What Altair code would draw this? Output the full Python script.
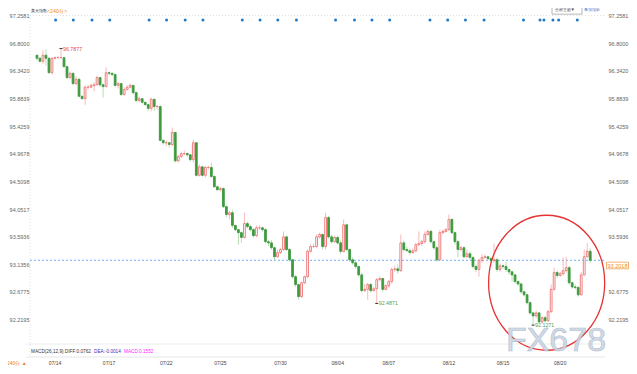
import altair as alt
import pandas as pd

# ---------------- data ----------------
first_open = 96.60
closes = [
    96.55, 96.50, 96.60, 96.55, 96.31, 96.55, 96.56, 96.56, 96.56, 96.41,
    96.23, 96.30, 96.13, 96.20, 95.92, 95.88, 96.07, 96.07, 96.10, 96.11,
    96.23, 96.11, 96.08, 96.31, 96.30, 96.28, 96.10, 96.13, 95.95, 96.03,
    96.07, 96.10, 95.98, 95.85, 95.88, 95.82, 95.78, 95.72, 95.87, 95.75,
    95.75, 95.19, 95.15, 95.15, 95.12, 95.32, 94.85, 94.92, 94.97, 94.97,
    94.95, 94.87, 95.15, 94.61, 94.75, 94.61, 94.74, 94.74, 94.59, 94.42,
    94.37, 94.39, 94.09, 93.96, 93.99, 93.78, 93.71, 93.66, 93.58, 93.81,
    93.76, 93.71, 93.61, 93.74, 93.74, 93.71, 93.51, 93.49, 93.41, 93.26,
    93.33, 93.38, 93.59, 93.38, 93.21, 92.93, 92.80, 92.60, 92.83, 92.93,
    93.35, 93.43, 93.43, 93.59, 93.63, 93.43, 93.91, 93.59, 93.51, 93.58,
    93.49, 93.35, 93.79, 93.38, 93.21, 93.16, 93.10, 92.96, 92.70, 92.72,
    92.80, 92.70, 92.73, 92.88, 92.90, 92.72, 92.78, 92.85, 93.05, 93.06,
    93.03, 93.49, 93.38, 93.36, 93.33, 93.36, 93.46, 93.48, 93.51, 93.63,
    93.68, 93.51, 93.41, 93.21, 93.66, 93.68, 93.71, 93.88, 93.66, 93.51,
    93.38, 93.41, 93.26, 93.31, 93.25, 93.10, 93.05, 93.20, 93.25, 93.26,
    93.23, 93.20, 93.21, 93.05, 93.11, 93.10, 93.05, 93.01, 92.96, 92.85,
    92.81, 92.68, 92.63, 92.50, 92.33, 92.28, 92.33, 92.18, 92.25, 92.20,
    92.35, 92.72, 93.00, 92.95, 92.98, 93.03, 93.08, 92.83, 92.76, 92.75,
    92.63, 92.96, 93.26, 93.35, 93.2018,
]
highs = [
    96.61, 96.56, 96.68, 96.70, 96.56, 96.56, 96.58, 96.58, 96.71, 96.56,
    96.43, 96.33, 96.31, 96.25, 96.23, 95.93, 96.10, 96.10, 96.13, 96.15,
    96.26, 96.23, 96.13, 96.40, 96.33, 96.31, 96.30, 96.16, 96.13, 96.07,
    96.10, 96.13, 96.10, 96.00, 95.92, 95.88, 95.83, 95.80, 95.90, 95.88,
    95.78, 95.77, 95.20, 95.19, 95.15, 95.40, 95.33, 94.95, 95.00, 95.02,
    94.99, 94.95, 95.20, 95.15, 94.79, 94.77, 94.77, 94.77, 94.82, 94.61,
    94.44, 94.42, 94.41, 94.11, 94.02, 94.04, 93.79, 93.71, 93.68, 93.99,
    93.84, 93.79, 93.73, 93.78, 93.78, 93.76, 93.73, 93.54, 93.54, 93.43,
    93.38, 93.41, 93.68, 93.61, 93.40, 93.23, 92.96, 92.81, 92.85, 92.95,
    93.38, 93.46, 93.48, 93.63, 93.66, 93.64, 93.99, 93.94, 93.63, 93.61,
    93.61, 93.53, 93.88, 93.81, 93.40, 93.25, 93.18, 93.11, 93.00, 92.81,
    92.83, 92.83, 92.76, 92.91, 92.93, 92.91, 92.81, 92.88, 93.08, 93.11,
    93.13, 93.63, 93.53, 93.43, 93.40, 93.40, 93.49, 93.68, 93.54, 93.68,
    93.71, 93.71, 93.53, 93.44, 93.71, 93.71, 93.74, 93.96, 93.89, 93.68,
    93.54, 93.44, 93.43, 93.38, 93.35, 93.26, 93.13, 93.23, 93.30, 93.30,
    93.28, 93.25, 93.48, 93.25, 93.15, 93.13, 93.18, 93.06, 93.03, 92.98,
    92.86, 92.83, 92.70, 92.65, 92.52, 92.35, 92.37, 92.35, 92.28, 92.28,
    92.38, 92.80, 93.08, 93.03, 93.01, 93.25, 93.26, 93.11, 92.85, 92.80,
    92.78, 93.01, 93.38, 93.49, 93.40,
]
lows = [
    96.51, 96.48, 96.46, 96.43, 96.30, 96.28, 96.53, 96.55, 96.55, 96.40,
    96.20, 96.20, 96.10, 96.10, 95.90, 95.87, 95.78, 96.03, 96.05, 96.00,
    96.10, 96.08, 95.90, 96.07, 96.26, 96.25, 96.07, 96.05, 95.92, 95.93,
    96.02, 96.05, 95.95, 95.82, 95.82, 95.80, 95.77, 95.68, 95.67, 95.68,
    95.70, 95.17, 95.12, 95.09, 95.07, 95.09, 94.82, 94.82, 94.90, 94.94,
    94.92, 94.84, 94.82, 94.59, 94.59, 94.59, 94.57, 94.70, 94.57, 94.41,
    94.36, 94.34, 94.07, 93.91, 93.88, 93.74, 93.68, 93.46, 93.49, 93.56,
    93.73, 93.68, 93.58, 93.58, 93.71, 93.68, 93.48, 93.44, 93.38, 93.20,
    93.25, 93.31, 93.36, 93.36, 93.18, 92.90, 92.76, 92.55, 92.58, 92.81,
    92.91, 93.33, 93.40, 93.40, 93.56, 93.38, 93.38, 93.56, 93.48, 93.49,
    93.46, 93.31, 93.33, 93.35, 93.18, 93.13, 93.06, 92.93, 92.67, 92.68,
    92.55, 92.67, 92.68, 92.4871, 92.85, 92.68, 92.70, 92.75, 92.81, 93.01,
    92.98, 93.01, 93.35, 93.35, 93.30, 93.31, 93.33, 93.44, 93.44, 93.48,
    93.61, 93.48, 93.38, 93.18, 93.20, 93.64, 93.66, 93.69, 93.63, 93.46,
    93.25, 93.35, 93.23, 93.25, 93.21, 93.06, 93.01, 92.93, 93.16, 93.23,
    93.20, 93.16, 93.16, 93.01, 93.01, 93.06, 93.01, 92.96, 92.85, 92.81,
    92.78, 92.65, 92.60, 92.47, 92.30, 92.1271, 92.25, 92.17, 92.15, 92.17,
    92.18, 92.33, 92.70, 92.91, 92.93, 92.95, 93.00, 92.80, 92.73, 92.72,
    92.60, 92.62, 92.95, 93.25, 93.16,
]

date_pos = [6, 24, 43, 61, 81, 100, 117, 137, 155, 174]
date_lbl = ["07/14", "07/17", "07/22", "07/25", "07/30", "08/04", "08/07", "08/12", "08/15", "08/20"]
y_ticks = [97.2581, 96.8000, 96.3420, 95.8839, 95.4259, 94.9678, 94.5098,
           94.0517, 93.5936, 93.1356, 92.6775, 92.2195]
right_ticks = [97.2581, 96.8000, 96.3420, 95.8839, 95.4259, 94.9678, 94.5098,
               94.0517, 93.5936, 92.6775, 92.2195]
dot_pos = [6.2, 12.1, 18.3, 24.2, 37.3, 43.1, 49.3, 55.2, 68.3, 74.2, 80.1, 86.3,
           99.3, 105.6, 111.4, 117.3, 130.7, 136.6, 142.5, 148.7, 161.8, 167.3,
           168.6, 171.6, 173.5, 179.7]
last_price = 93.2018
marks_idx = [8, 113, 165]
marks_txt = ["96.7877", "92.4871", "92.1271"]
circle_idx = [169.5]
circle_price = [92.83]

# ---------------- build tables ----------------
opens = [first_open] + closes[:-1]
df = pd.DataFrame({"i": list(range(len(closes))), "open": opens, "close": closes,
                   "high": highs, "low": lows})

W, H = 575, 330
xs = alt.Scale(domain=[-0.65, 187.25], nice=False, zero=False)
ys = alt.Scale(domain=[91.848, 97.316], nice=False, zero=False)
FONT = "Liberation Sans"

left_axis = alt.Axis(values=y_ticks, format=".4f", orient="left", title=None, grid=False,
                     ticks=False, domain=False, labelFontSize=5.5, labelColor="#666666",
                     labelPadding=1, labelFont=FONT)
right_axis = alt.Axis(values=right_ticks, format=".4f", orient="right", title=None, grid=False,
                      ticks=False, domain=False, labelFontSize=5.5, labelColor="#666666",
                      labelPadding=3, labelFont=FONT)

up = "datum.close >= datum.open"
X = alt.X("i:Q", scale=xs, axis=None)

wick = alt.Chart(df).mark_rule(strokeWidth=0.8).encode(
    x=X,
    y=alt.Y("low:Q", scale=ys, axis=left_axis),
    y2="high:Q",
    color=alt.condition(up, alt.value("#f4aaaa"), alt.value("#a6d6a6")),
)
body = alt.Chart(df).mark_bar(size=1.8, strokeWidth=0.9).encode(
    x=X,
    y=alt.Y("open:Q", scale=ys, axis=right_axis),
    y2="close:Q",
    fill=alt.condition(up, alt.value("#ffffff"), alt.value("#3e9a3e")),
    stroke=alt.condition(up, alt.value("#ee7272"), alt.value("#3e9a3e")),
)

# date labels along the bottom, positioned by the x scale
dates_df = pd.DataFrame({"i": date_pos, "t": date_lbl})
date_txt = alt.Chart(dates_df).mark_text(fontSize=5, color="#444444", font=FONT,
                                         baseline="middle").encode(
    x=X, y=alt.value(351), text="t:N")

# reference lines
frame_df = pd.DataFrame({"p": [y_ticks[0]]})
top_line = alt.Chart(frame_df).mark_rule(color="#d8d8d8", strokeDash=[1, 2], strokeWidth=0.8).encode(
    y=alt.Y("p:Q", scale=ys, axis=None), x=alt.value(0), x2=alt.value(W))
left_line = alt.Chart(frame_df).mark_rule(color="#d8d8d8", strokeDash=[1, 2], strokeWidth=0.8).encode(
    x=alt.value(0), y=alt.value(3), y2=alt.value(H + 14))
right_border = alt.Chart(frame_df).mark_rule(color="#e4e4e4", strokeWidth=1).encode(
    x=alt.value(603), y=alt.value(-12), y2=alt.value(H + 32))
panel_line = alt.Chart(frame_df).mark_rule(color="#ececec", strokeWidth=1).encode(
    x=alt.value(-4), x2=alt.value(W), y=alt.value(H + 2))
date_line = alt.Chart(frame_df).mark_rule(color="#e6e6e6", strokeWidth=1).encode(
    x=alt.value(-4), x2=alt.value(W), y=alt.value(H + 15))

last_df = pd.DataFrame({"p": [last_price], "t": [f"{last_price:.4f}"]})
last_line = alt.Chart(last_df).mark_rule(color="#5ea6ee", strokeDash=[2, 2], strokeWidth=0.9).encode(
    y=alt.Y("p:Q", scale=ys, axis=None), x=alt.value(0), x2=alt.value(W))
last_tick = alt.Chart(last_df).mark_rule(color="#f0a040", strokeWidth=2).encode(
    y=alt.Y("p:Q", scale=ys, axis=None), x=alt.value(601), x2=alt.value(604))
box_path = "M-1,-0.3L1,-0.3L1,0.3L-1,0.3Z"
last_box = alt.Chart(last_df).mark_point(shape=box_path, size=484, fill="#ffffff", fillOpacity=1,
                                         stroke="#f0a050", strokeWidth=0.8, opacity=1).encode(
    x=alt.value(587.5), y=alt.value(253.5))
last_txt = alt.Chart(last_df).mark_text(fontSize=5.5, color="#f08a24", font=FONT).encode(
    x=alt.value(587.5), y=alt.value(253.7), text="t:N")

# event dots
dots = alt.Chart(pd.DataFrame({"i": dot_pos})).mark_circle(size=9, color="#1f78c8", opacity=1).encode(
    x=X, y=alt.value(8))

# high / low labels
hl_df = pd.DataFrame({"i": marks_idx, "t": marks_txt,
                      "p": [highs[marks_idx[0]], lows[marks_idx[1]], lows[marks_idx[2]]],
                      "dy": [-3.5, 4, 4.5],
                      "c": ["#e34a4a", "#5aa05a", "#5aa05a"]})
hl_txt = alt.Chart(hl_df).mark_text(align="left", baseline="middle", dx=2, fontSize=5.3, font=FONT).encode(
    x=X, y=alt.Y("p:Q", scale=ys, axis=None), text="t:N",
    color=alt.Color("c:N", scale=None), yOffset=alt.YOffset("dy:Q", scale=None))
hl_mark = alt.Chart(hl_df).mark_point(shape="M-1,0L1,0", size=9, stroke="#333333", strokeWidth=1,
                                      opacity=1).encode(x=X, y=alt.Y("p:Q", scale=ys, axis=None))

# hand-drawn style red ellipse
ell_path = ("M0.86,0C0.86,0.5523,0.475,1,0,1C-0.475,1,-0.86,0.5523,-0.86,0"
            "C-0.86,-0.5523,-0.475,-1,0,-1C0.475,-1,0.86,-0.5523,0.86,0Z")
ellipse = alt.Chart(pd.DataFrame({"i": circle_idx, "p": circle_price})).mark_point(
    shape=ell_path, size=18225, filled=False, stroke="#e53333", strokeWidth=1.3, opacity=1).encode(
    x=X, y=alt.Y("p:Q", scale=ys, axis=None))

# watermark
wm = alt.Chart(pd.DataFrame({"t": ["FX678"]})).mark_text(
    fontSize=34, font=FONT, fill="#cdd8e6", stroke="#a9b6c6", strokeWidth=0.6,
    align="center", baseline="alphabetic", opacity=0.9).encode(
    x=alt.value(526), y=alt.value(339), text="t:N")

# header / footer texts
txt = pd.DataFrame({
    "t": ["美元指数", "<240分>", "全部主题▼", "叠加指标",
          "MACD(26,12,9) DIFF:0.0762", "DEA:-0.0014", "MACD:0.1552", "240分 ▲"],
    "x": [1, 17, 524.5, 554, 1, 64, 94, -23],
    "y": [-1.3, -1.3, -1.6, -1.6, 340, 340, 340, 351],
    "c": ["#333333", "#f08a24", "#444444", "#3a7bd5", "#333333", "#3333bb", "#ff22ff", "#f07c1e"],
    "s": [4.2, 5.3, 4.4, 4.4, 4.7, 4.7, 4.7, 5],
})
texts = alt.Chart(txt).mark_text(align="left", baseline="middle", font=FONT).encode(
    x=alt.X("x:Q", scale=None, axis=None), y=alt.Y("y:Q", scale=None, axis=None), text="t:N",
    color=alt.Color("c:N", scale=None), size=alt.Size("s:Q", scale=None))
tr_box = alt.Chart(pd.DataFrame({"t": [1]})).mark_point(
    shape="M-1,-0.25L1,-0.25L1,0.25L-1,0.25Z", size=900, filled=False, stroke="#999999",
    strokeWidth=0.7, opacity=1).encode(x=alt.value(537), y=alt.value(-1.6))

chart = alt.layer(
    top_line, left_line, right_border, panel_line, date_line, last_line,
    wick, body, dots, hl_mark, hl_txt, ellipse, wm,
    last_tick, last_box, last_txt, tr_box, texts, date_txt,
).resolve_axis(y="independent").properties(
    width=W, height=H,
    autosize=alt.AutoSizeParams(type="none"),
    padding={"left": 22, "top": 4, "right": 24, "bottom": 24},
    background="#ffffff",
).configure_view(stroke=None)

chart.save("out.html", embed_options={"renderer": "svg", "actions": False})
